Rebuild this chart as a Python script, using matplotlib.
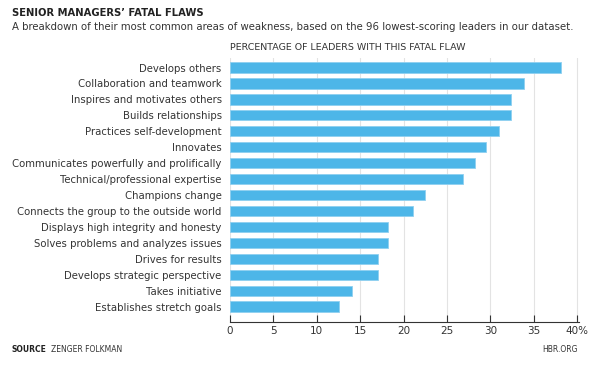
import numpy as np
import matplotlib.pyplot as plt

plt.rcParams['font.family'] = ['DejaVu Sans']

labels = ["Develops others", "Collaboration and teamwork", "Inspires and motivates others",
          "Builds relationships", "Practices self-development", "Innovates",
          "Communicates powerfully and prolifically", "Technical/professional expertise",
          "Champions change", "Connects the group to the outside world",
          "Displays high integrity and honesty", "Solves problems and analyzes issues",
          "Drives for results", "Develops strategic perspective", "Takes initiative",
          "Establishes stretch goals"]
values = [38.1, 33.9, 32.4, 32.4, 31.0, 29.5, 28.2, 26.8, 22.5, 21.1, 18.2, 18.2, 17.0, 17.0, 14.0, 12.6]
ticks = [0, 5, 10, 15, 20, 25, 30, 35, 40]
tick_labels = ["0", "5", "10", "15", "20", "25", "30", "35", "40%"]

W, H = 608, 365
fig = plt.figure(figsize=(W/100, H/100), dpi=100)
# axes: x 230..579 px, y 58..322 px
ax = fig.add_axes([230/W, 1-322/H, (579-230)/W, (322-58)/H])

y = np.arange(len(labels))
ax.barh(y, values, height=0.64, color='#4db6e8', edgecolor='#8fd0f0', linewidth=0.6, zorder=3)
ax.set_ylim(15.97, -0.6)
ax.set_xlim(0, 40.2)
ax.set_xticks(ticks)
ax.set_xticklabels(tick_labels, fontsize=7.5, color='#333333')
ax.set_yticks(y)
ax.set_yticklabels(labels, fontsize=7.25, color='#333333')
ax.tick_params(axis='y', length=0, pad=6)
ax.tick_params(axis='x', direction='in', length=5, width=0.8, color='#333333', pad=3)
for s in ['top', 'right', 'left']:
    ax.spines[s].set_visible(False)
ax.spines['bottom'].set_color('#333333')
ax.spines['bottom'].set_linewidth(0.8)
ax.xaxis.grid(True, color='#e3e3e3', linewidth=0.8, zorder=0)
ax.set_axisbelow(True)

fig.text(12/W, 1-13/H, "SENIOR MANAGERS\u2019 FATAL FLAWS", fontsize=7.2, fontweight='bold',
         color='#222222', va='center')
fig.text(12/W, 1-27/H, "A breakdown of their most common areas of weakness, based on the 96 lowest-scoring leaders in our dataset.",
         fontsize=7.3, color='#333333', va='center')
fig.text(230/W, 1-48/H, "PERCENTAGE OF LEADERS WITH THIS FATAL FLAW", fontsize=6.8,
         color='#333333', va='center')
fig.text(12/W, 1-350/H, "SOURCE", fontsize=5.5, fontweight='bold', color='#222222', va='center')
fig.text(51/W, 1-350/H, "ZENGER FOLKMAN", fontsize=5.5, color='#333333', va='center')
fig.text(578/W, 1-350/H, "HBR.ORG", fontsize=5.5, color='#333333', va='center', ha='right')

fig.savefig("out.png", dpi=100)
